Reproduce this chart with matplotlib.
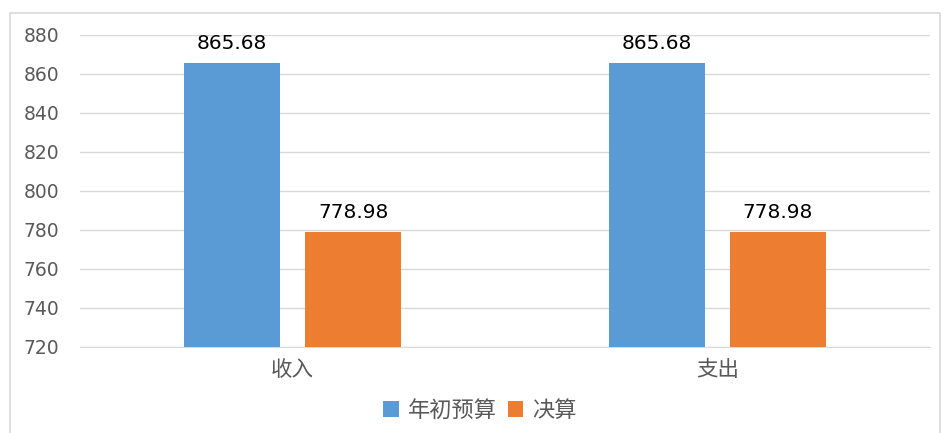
import matplotlib
matplotlib.use("Agg")
import matplotlib.pyplot as plt
from matplotlib.patches import Rectangle
import numpy as np

plt.rcParams['font.family'] = ['Noto Sans CJK SC', 'DejaVu Sans']

categories = ["收入", "支出"]
series_names = ["年初预算", "决算"]
budget = [865.68, 865.68]
final = [778.98, 778.98]
yticks = [720, 740, 760, 780, 800, 820, 840, 860, 880]

colors = ["#5B9BD5", "#ED7D31"]
text_gray = "#595959"

fig = plt.figure(figsize=(9.47, 4.33), dpi=100)
ax = fig.add_axes([80/947, 1-347/433, 850/947, (347-35)/433])

# chart border
fig.patches.append(Rectangle((10/947, -0.01), 930/947, 1.01-13/433, transform=fig.transFigure,
                             fill=False, edgecolor="#D9D9D9", linewidth=1.2))

x = np.arange(len(categories))
w = 0.226
off = 0.1425
b1 = ax.bar(x - off, budget, w, color=colors[0], label=series_names[0], zorder=3)
b2 = ax.bar(x + off, final, w, color=colors[1], label=series_names[1], zorder=3)

for bars, vals in ((b1, budget), (b2, final)):
    for r, v in zip(bars, vals):
        ax.text(r.get_x() + r.get_width()/2, v + 5.0, f"{v:.2f}", ha="center", va="bottom",
                fontsize=14.5, color="black", family="DejaVu Sans")

ax.set_ylim(720, 880)
ax.set_xlim(-0.5, 1.5)
ax.set_yticks(yticks)
ax.set_yticklabels([str(t) for t in yticks], fontsize=13.5, color=text_gray, family="DejaVu Sans")
ax.set_xticks(x)
ax.set_xticklabels(categories, fontsize=15.5, color=text_gray)
ax.tick_params(axis="both", length=0)
ax.tick_params(axis="y", pad=15)
ax.tick_params(axis="x", pad=9)
ax.grid(axis="y", color="#D9D9D9", linewidth=1, zorder=0)
for s in ["top", "right", "left"]:
    ax.spines[s].set_visible(False)
ax.spines["bottom"].set_color("#D9D9D9")

leg = fig.legend(handles=[b1, b2], labels=series_names, loc="center", bbox_to_anchor=(480/947, 1-410/433),
                 ncol=2, frameon=False, fontsize=16, handlelength=0.7, handleheight=0.7,
                 handletextpad=0.4, columnspacing=0.5)
for t in leg.get_texts():
    t.set_color(text_gray)

fig.savefig("out.png", dpi=100)
